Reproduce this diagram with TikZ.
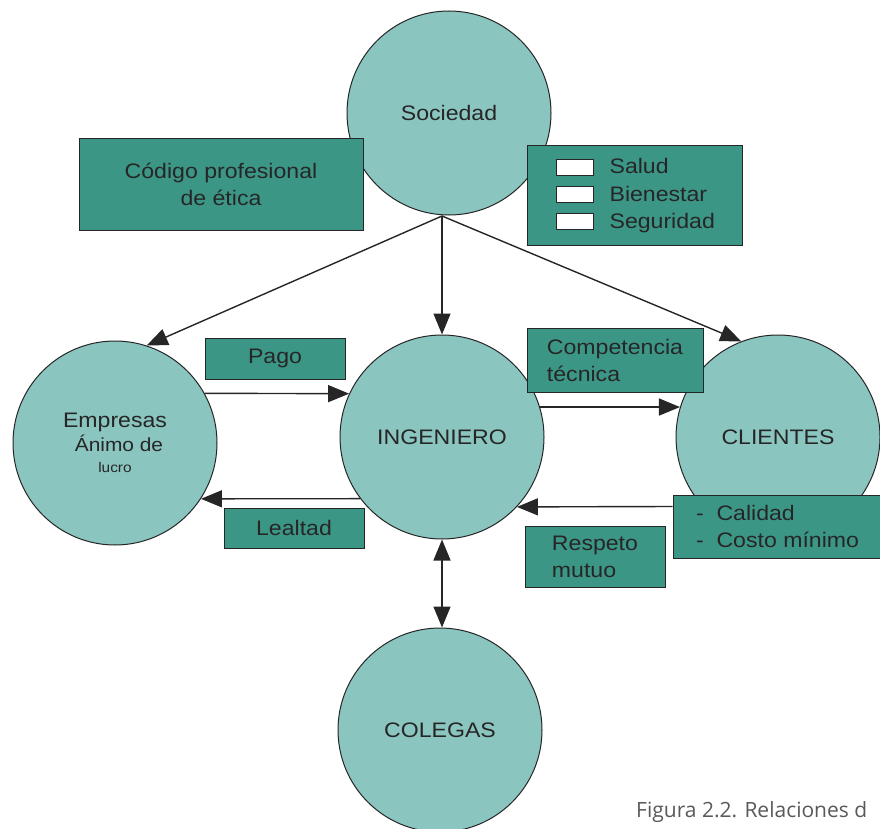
\documentclass[tikz,border=0pt]{standalone}
\usepackage{xcolor}
\usepackage{fontspec}
\setmainfont{Liberation Sans}[FakeStretch=1.1]
\newfontfamily\capfont{Open Sans}
\usetikzlibrary{arrows.meta,positioning}

\definecolor{circfill}{HTML}{8AC6BF}
\definecolor{boxfill}{HTML}{3C9686}
\definecolor{inkgray}{HTML}{262626}

\tikzset{
    circ/.style={circle,draw=inkgray,line width=1pt,fill=circfill,minimum size=204pt,inner sep=0pt,
        text=inkgray,align=center,font=\fontsize{21}{26}\selectfont},
    lbox/.style={rectangle,draw=inkgray,line width=0.8pt,fill=boxfill,inner sep=0pt,
        text=inkgray,font=\fontsize{21}{27}\selectfont},
    chk/.style={rectangle,draw=inkgray,line width=0.8pt,fill=white,minimum width=37pt,minimum height=16pt,inner sep=0pt},
    txt/.style={inner sep=0pt,text=inkgray,text height=15pt,text depth=1pt,font=\fontsize{21}{26}\selectfont},
    arr/.style={draw=inkgray,line width=1.4pt,->},
    dbl/.style={draw=inkgray,line width=1.4pt,<->}
}

\begin{document}
\begin{tikzpicture}[x=1pt,y=-1pt,>={Triangle[length=21pt,width=17pt]}]
    \useasboundingbox (0,0) rectangle (880,829);
    %circles
    \node[circ] (soc) at (449,113) {Sociedad};
    \node[circ] (emp) at (115,443) {Empresas\\[-2pt]\hspace*{8pt}{\fontsize{19}{22}\selectfont \'Animo de}\\[-5pt]{\fontsize{14}{16}\selectfont lucro}};
    \node[circ] (ing) at (442,437) {INGENIERO};
    \node[circ] (cli) at (778,437) {CLIENTES};
    \node[circ] (col) at (440,730) {COLEGAS};

    %boxes
    \node[lbox,align=center,minimum width=284pt,minimum height=92pt] (cod) at (221,184) {C\'odigo profesional\\de \'etica};
    \node[lbox,minimum width=215pt,minimum height=100pt] (sal) at (634.5,195) {};
    \node[chk] (c1) at (574.5,167) {};
    \node[chk] (c2) at (574.5,194) {};
    \node[chk] (c3) at (574.5,221) {};
    \node[txt,right=16pt of c1] (t1) {Salud};
    \node[txt,right=16pt of c2] (t2) {Bienestar};
    \node[txt,right=16pt of c3] (t3) {Seguridad};
    \node[lbox,minimum width=140pt,minimum height=41pt] (pag) at (275,358.5) {Pago};
    \node[lbox,minimum width=140pt,minimum height=40pt] (lea) at (294,528) {Lealtad};
    \node[lbox,align=left,minimum width=176pt,minimum height=64pt] (com) at (615,360) {Competencia\\t\'ecnica};
    \node[lbox,align=left,minimum width=209pt,minimum height=63pt] (cal) at (777.5,526.5) {-\ \ Calidad\\-\ \ Costo m\'inimo};
    \node[lbox,align=left,minimum width=140pt,minimum height=61pt] (res) at (595,556.5) {Respeto\\mutuo};

    %arrows
    \coordinate (s0) at (442,216);
    \draw[arr] (s0) -- (emp.72);
    \draw[arr] (s0) -- (ing.north);
    \draw[arr] (s0) -- (cli.111);
    \draw[arr] (emp.29) -- (ing.155);
    \draw[arr] (ing.217) -- (emp.-33);
    \draw[arr] (ing.17) -- (cli.163);
    \draw[arr] ([yshift=20pt]cal.west) -- (ing.-43);
    \draw[dbl] (ing.south) -- (ing.south |- col.north);

    \node[anchor=base west,inner sep=0pt,text=black!65,font=\capfont\fontsize{21}{24}\selectfont] (cap) at (636,817) {Figura 2.2. Relaciones d};
\end{tikzpicture}
\end{document}
